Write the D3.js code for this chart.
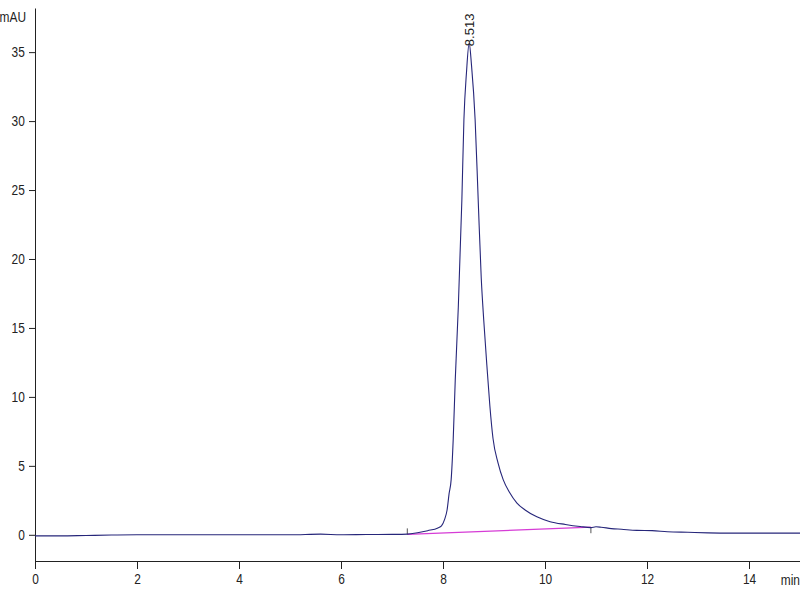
<!DOCTYPE html>
<html>
<head>
<meta charset="utf-8">
<script src="https://cdn.jsdelivr.net/npm/d3@7"></script>
<style>
  body { margin: 0; background: #fff; }
  svg text { font-family: "Liberation Sans Narrow", "Arial Narrow", "Liberation Sans", sans-serif; fill: #222; }
</style>
</head>
<body>
<svg id="chart" width="800" height="600"></svg>
<script>
// chromatogram trace (min, mAU)
const signalTime = [0, 0.5, 1, 1.5, 2, 3, 4, 5, 5.6, 6, 6.5, 7, 7.3, 7.5, 7.7, 7.9, 7.97, 8.03, 8.08,
  8.12, 8.16, 8.2, 8.24, 8.3, 8.37, 8.41, 8.46, 8.513, 8.56, 8.63, 8.69, 8.75, 8.8, 8.86, 8.92, 8.98,
  9.08, 9.18, 9.3, 9.45, 9.61, 9.84, 10.1, 10.4, 10.69, 10.9, 11.0, 11.1, 11.3, 11.5, 11.8, 12.1,
  12.4, 12.8, 13.2, 13.6, 14, 15];
const signalValue = [-0.08, -0.08, -0.05, -0.02, 0, 0, 0, 0, 0.05, 0, 0.02, 0.03, 0.05, 0.15, 0.3, 0.5, 0.65, 1.1, 1.8,
  3.0, 4.0, 6.9, 11.2, 16.5, 24.3, 30.1, 33.5, 35.65, 34.0, 30.1, 24.3, 18.6, 15.5, 12.3, 9.3, 7.0,
  5.2, 4.0, 3.1, 2.3, 1.8, 1.3, 0.95, 0.75, 0.6, 0.52, 0.58, 0.55, 0.45, 0.4, 0.32, 0.3,
  0.22, 0.18, 0.14, 0.12, 0.12, 0.12];

// integration baseline
const baseTime = [7.3, 10.9];
const baseValue = [0.03, 0.55];

const peakTime = 8.513, peakValue = 35.65, peakLabel = "8.513";

const xMajor = [0, 2, 4, 6, 8, 10, 12, 14];
const yMajor = [0, 5, 10, 15, 20, 25, 30, 35];

const width = 800, height = 600;
const svg = d3.select("#chart");
const narrow = "scale(0.85,1)";

const x = d3.scaleLinear().domain([0, 15]).range([35, 800]);
const y = d3.scaleLinear().domain([-1.9, 38.2]).range([561, 8]);

const xMinor = d3.range(0, 15.01, 0.5).filter(d => d % 2 !== 0);
const yMinor = d3.range(-1, 39, 1).filter(d => d % 5 !== 0);

// x axis
const gx = svg.append("g").attr("transform", `translate(0,${y.range()[0]})`);
gx.call(d3.axisBottom(x).tickValues(xMinor).tickSize(3).tickSizeOuter(0).tickFormat(""));
gx.call(d3.axisBottom(x).tickValues(xMajor).tickSize(8).tickPadding(5).tickSizeOuter(0).tickFormat(d3.format("d")));
gx.selectAll("text").style("font-size", "14px").attr("transform", narrow);

// y axis
const gy = svg.append("g").attr("transform", `translate(${x.range()[0]},0)`);
gy.call(d3.axisLeft(y).tickValues(yMinor).tickSize(3).tickSizeOuter(0).tickFormat(""));
gy.call(d3.axisLeft(y).tickValues(yMajor).tickSize(6).tickPadding(6).tickSizeOuter(0).tickFormat(d3.format("d")));
gy.selectAll("text").style("font-size", "14px").attr("transform", narrow);

svg.selectAll(".domain").attr("stroke", "#222");
svg.selectAll(".tick line").attr("stroke", "#222");

svg.append("text").attr("transform", `translate(26,22) ${narrow}`).attr("text-anchor", "end")
  .style("font-size", "14px").text("mAU");
svg.append("text").attr("transform", `translate(800,585) ${narrow}`).attr("text-anchor", "end")
  .style("font-size", "14px").text("min");

// baseline
const baseLine = d3.line().x(d => x(d[0])).y(d => y(d[1]));
svg.append("path")
  .attr("d", baseLine(d3.zip(baseTime, baseValue)))
  .attr("fill", "none").attr("stroke", "#d63cd6").attr("stroke-width", 1.2);

svg.append("line")
  .attr("x1", x(baseTime[0])).attr("x2", x(baseTime[0]))
  .attr("y1", y(baseValue[0])).attr("y2", y(baseValue[0]) - 6)
  .attr("stroke", "#555").attr("stroke-width", 1);
svg.append("line")
  .attr("x1", x(baseTime[1])).attr("x2", x(baseTime[1]))
  .attr("y1", y(baseValue[1])).attr("y2", y(baseValue[1]) + 6)
  .attr("stroke", "#555").attr("stroke-width", 1);

// signal
const line = d3.line().x(d => x(d[0])).y(d => y(d[1])).curve(d3.curveMonotoneX);
svg.append("path")
  .attr("d", line(d3.zip(signalTime, signalValue)))
  .attr("fill", "none").attr("stroke", "#26267a").attr("stroke-width", 1.1);

// peak label
svg.append("text")
  .attr("transform", `translate(${x(peakTime) + 5},${y(peakValue) + 3}) rotate(-90)`)
  .style("font-size", "13px").text(peakLabel);
</script>
</body>
</html>
